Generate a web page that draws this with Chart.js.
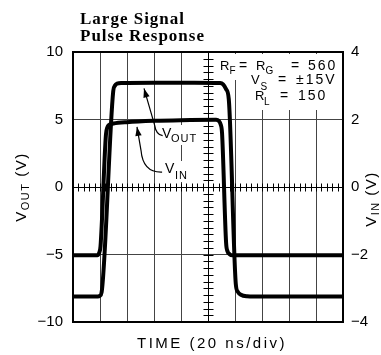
<!DOCTYPE html>
<html>
<head>
<meta charset="utf-8">
<script src="https://cdn.jsdelivr.net/npm/chart.js@4.4.1/dist/chart.umd.min.js"></script>
<style>
  html, body { margin: 0; padding: 0; background: #fff; }
  canvas { display: block; }
</style>
</head>
<body>
<canvas id="c" width="381" height="355"></canvas>
<script>
// Time axis in divisions (20 ns/div), 10 divisions across
const timeDivisions = [0, 1, 2, 3, 4, 5, 6, 7, 8, 9, 10];

// Output pulse, left axis (V)
const voutTime  = [0, 0.92, 1.0, 1.06, 1.49, 1.55, 1.63, 1.8, 3, 4.5, 5.45, 5.56, 5.67, 5.77, 6.03, 6.1, 6.22, 6.45, 6.7, 10];
const voutVolts = [-8.12, -8.12, -8.05, -7.8, 7.1, 7.5, 7.66, 7.7, 7.72, 7.72, 7.7, 7.6, 7.25, 6.5, -7.2, -7.75, -7.98, -8.1, -8.12, -8.12];

// Input pulse, right axis (V)
const vinTime  = [0, 0.9, 0.97, 1.02, 1.22, 1.27, 1.33, 1.5, 2, 3, 4, 5.3, 5.4, 5.47, 5.52, 5.67, 5.72, 5.8, 5.9, 10];
const vinVolts = [-2.02, -2.02, -1.95, -1.75, 1.55, 1.76, 1.84, 1.88, 1.92, 1.96, 1.98, 1.99, 1.96, 1.85, 1.6, -1.65, -1.9, -1.99, -2.02, -2.02];

// Labelled ticks on each vertical axis
const voutTickLabels = [10, 5, 0, -5, -10];
const vinTickLabels = [4, 2, 0, -2, -4];

const SANS = '"Liberation Sans", Arial, sans-serif';
const SERIF = '"Liberation Serif", "Times New Roman", serif';

function fmt(v) { return v < 0 ? '\u2212' + Math.abs(v) : String(v); }

function txt(ctx, s, x, y, size, ls) {
  ctx.font = size + 'px ' + SANS;
  ctx.letterSpacing = (ls || 0) + 'px';
  ctx.textAlign = 'left';
  ctx.textBaseline = 'alphabetic';
  ctx.fillStyle = '#000';
  ctx.fillText(s, x, y);
}

function measure(ctx, s, size, ls) {
  ctx.font = size + 'px ' + SANS;
  ctx.letterSpacing = (ls || 0) + 'px';
  return ctx.measureText(s).width;
}

// Rotated axis title made of pieces (main text + subscript)
function rotatedTitle(ctx, pieces, baseX, centerY) {
  const ls = 1.5;
  let total = 0;
  pieces.forEach(p => { total += measure(ctx, p.t, p.size, ls); });
  ctx.save();
  ctx.translate(baseX, centerY + total / 2);
  ctx.rotate(-Math.PI / 2);
  let cx = 0;
  pieces.forEach(p => {
    txt(ctx, p.t, cx, p.dy || 0, p.size, ls);
    cx += measure(ctx, p.t, p.size, ls);
  });
  ctx.restore();
}

// Leader line: end -> (quadratic bend) -> straight run to an arrow tip, in data units
function leader(ctx, x, y, pts) {
  const P = pts.map(p => [x.getPixelForValue(p[0]), y.getPixelForValue(p[1])]);
  ctx.beginPath();
  ctx.moveTo(P[0][0], P[0][1]);
  ctx.quadraticCurveTo(P[1][0], P[1][1], P[2][0], P[2][1]);
  ctx.lineTo(P[3][0], P[3][1]);
  ctx.stroke();
  const dx = P[3][0] - P[2][0], dy = P[3][1] - P[2][1];
  const L = Math.hypot(dx, dy), ux = dx / L, uy = dy / L;
  const len = 9, hw = 3.2;
  const bx = P[3][0] - ux * len, by = P[3][1] - uy * len;
  ctx.beginPath();
  ctx.moveTo(P[3][0], P[3][1]);
  ctx.lineTo(bx - uy * hw, by + ux * hw);
  ctx.lineTo(bx + uy * hw, by - ux * hw);
  ctx.closePath();
  ctx.fill();
}

const decor = {
  id: 'decor',
  beforeDatasetsDraw(chart) {
    const { ctx } = chart;
    const x = chart.scales.x, y = chart.scales.y;
    ctx.save();
    // centre cross-hair axes with minor divisions
    ctx.strokeStyle = '#000';
    ctx.lineWidth = 1;
    const y0 = Math.round(y.getPixelForValue(0)) + 0.5;
    const xc = Math.round(x.getPixelForValue(5)) + 0.5;
    ctx.beginPath();
    ctx.moveTo(x.left, y0); ctx.lineTo(x.right, y0);
    ctx.moveTo(xc, y.top); ctx.lineTo(xc, y.bottom);
    for (let i = 0; i <= 50; i++) {
      const px = Math.round(x.getPixelForValue(i * 0.2)) + 0.5;
      ctx.moveTo(px, y0 - 4); ctx.lineTo(px, y0 + 4);
    }
    for (let i = 0; i <= 40; i++) {
      const py = Math.round(y.getPixelForValue(-10 + i * 0.5)) + 0.5;
      ctx.moveTo(xc - 5, py); ctx.lineTo(xc + 5, py);
    }
    ctx.stroke();

    // test conditions block
    ctx.fillStyle = '#fff';
    ctx.fillRect(215, 54, 126, 26);
    ctx.fillRect(250, 72, 90, 20);
    ctx.fillRect(252, 89, 80, 21);
    txt(ctx, 'R', 220, 70, 13);
    txt(ctx, 'F', 229.5, 74, 10);
    txt(ctx, '=', 239, 70, 14);
    txt(ctx, 'R', 256, 70, 13);
    txt(ctx, 'G', 265.5, 74, 10);
    txt(ctx, '=', 291, 70, 14);
    txt(ctx, '560', 308, 70, 14, 2);
    txt(ctx, 'V', 251, 84, 13);
    txt(ctx, 'S', 260.5, 90, 10);
    txt(ctx, '=', 278, 84, 14);
    txt(ctx, '\u00b115V', 296, 84, 14, 2);
    txt(ctx, 'R', 255, 100, 13);
    txt(ctx, 'L', 264, 105, 10);
    txt(ctx, '=', 280, 100, 14);
    txt(ctx, '150', 298, 100, 14, 2);

    // trace labels
    ctx.fillStyle = '#fff';
    ctx.fillRect(160, 125, 41, 20);
    ctx.fillRect(163, 161, 27, 21);
    txt(ctx, 'V', 162, 138, 14);
    txt(ctx, 'OUT', 171, 142, 11, 1);
    txt(ctx, 'V', 165, 173, 14);
    txt(ctx, 'IN', 175, 179, 11, 1);

    // leader lines with arrowheads
    ctx.strokeStyle = '#000';
    ctx.fillStyle = '#000';
    ctx.lineWidth = 1.2;
    leader(ctx, x, y, [[3.32, 3.8], [3.08, 3.85], [3.02, 4.6], [2.63, 7.3]]);
    leader(ctx, x, y, [[3.3, 1.1], [2.59, 1.05], [2.52, 2.7], [2.37, 4.45]]);
    ctx.restore();
  },
  afterDraw(chart) {
    const { ctx } = chart;
    ctx.save();
    // heading
    ctx.fillStyle = '#000';
    ctx.textAlign = 'left';
    ctx.textBaseline = 'alphabetic';
    ctx.font = 'bold 17px ' + SERIF;
    ctx.letterSpacing = '1px';
    ctx.fillText('Large Signal', 80, 24);
    ctx.fillText('Pulse Response', 80, 41);
    // axis titles
    txt(ctx, 'TIME (20 ns/div)', 137, 348, 15, 2.5);
    rotatedTitle(ctx, [{ t: 'V', size: 15 }, { t: 'OUT', size: 11, dy: 3 }, { t: ' (V)', size: 15 }], 26, 187);
    rotatedTitle(ctx, [{ t: 'V', size: 15 }, { t: 'IN', size: 11, dy: 3 }, { t: ' (V)', size: 15 }], 376, 199);
    ctx.letterSpacing = '0px';
    ctx.restore();
  }
};

const gridColor = '#444';

new Chart(document.getElementById('c'), {
  type: 'line',
  data: {
    datasets: [
      {
        label: 'VOUT',
        data: voutTime.map((t, i) => ({ x: t, y: voutVolts[i] })),
        yAxisID: 'y',
        borderColor: '#000',
        borderWidth: 4,
        pointRadius: 0,
        fill: false,
        cubicInterpolationMode: 'monotone',
        borderJoinStyle: 'round',
        borderCapStyle: 'round'
      },
      {
        label: 'VIN',
        data: vinTime.map((t, i) => ({ x: t, y: vinVolts[i] })),
        yAxisID: 'y2',
        borderColor: '#000',
        borderWidth: 4,
        pointRadius: 0,
        fill: false,
        cubicInterpolationMode: 'monotone',
        borderJoinStyle: 'round',
        borderCapStyle: 'round'
      }
    ]
  },
  options: {
    responsive: false,
    animation: false,
    devicePixelRatio: 1,
    layout: { padding: { top: 52, left: 0, right: 0, bottom: 0 } },
    plugins: { legend: { display: false }, tooltip: { enabled: false } },
    scales: {
      x: {
        type: 'linear',
        min: timeDivisions[0],
        max: timeDivisions[timeDivisions.length - 1],
        afterBuildTicks: s => { s.ticks = timeDivisions.map(v => ({ value: v })); },
        ticks: { display: false },
        grid: {
          drawTicks: false,
          color: c => (c.tick && c.tick.value === 10 ? '#000' : gridColor),
          lineWidth: c => (c.tick && c.tick.value === 10 ? 2 : 1)
        },
        border: { color: '#000', width: 2 },
        afterFit: s => { s.height = 33; }
      },
      y: {
        position: 'left',
        min: -10,
        max: 10,
        ticks: {
          stepSize: 2.5,
          padding: 10,
          color: '#000',
          font: { family: 'Liberation Sans', size: 15 },
          callback: v => (voutTickLabels.includes(v) ? fmt(v) : null)
        },
        grid: {
          drawTicks: false,
          color: c => (c.tick && c.tick.value === 10 ? '#000' : gridColor),
          lineWidth: c => (c.tick && c.tick.value === 10 ? 2 : 1)
        },
        border: { color: '#000', width: 2 },
        afterFit: s => { s.width = 73; }
      },
      y2: {
        position: 'right',
        min: -4,
        max: 4,
        ticks: {
          stepSize: 2,
          padding: 8,
          color: '#000',
          font: { family: 'Liberation Sans', size: 15 },
          callback: v => (vinTickLabels.includes(v) ? fmt(v) : null)
        },
        grid: { display: false, drawTicks: false },
        border: { color: '#000', width: 2 },
        afterFit: s => { s.width = 38; }
      }
    }
  },
  plugins: [decor]
});
</script>
</body>
</html>
